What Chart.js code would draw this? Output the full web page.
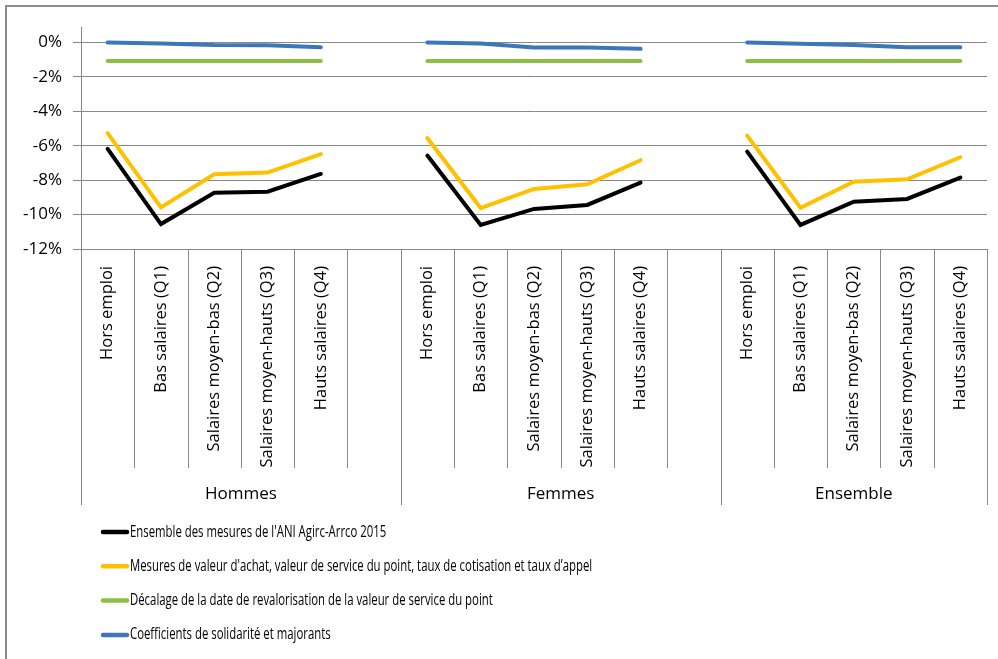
<!DOCTYPE html>
<html>
<head>
<meta charset="utf-8">
<script src="https://cdn.jsdelivr.net/npm/chart.js@4.4.1/dist/chart.umd.min.js"></script>
<style>
  html, body { margin: 0; padding: 0; background: #fff; }
  #wrap { width: 998px; height: 659px; position: relative; }
</style>
</head>
<body>
<div id="wrap"><canvas id="myChart" width="998" height="659"></canvas></div>
<script>
// categories (empty slot between groups keeps the lines apart)
const categories = [
  'Hors emploi', 'Bas salaires (Q1)', 'Salaires moyen-bas (Q2)', 'Salaires moyen-hauts (Q3)', 'Hauts salaires (Q4)', '',
  'Hors emploi', 'Bas salaires (Q1)', 'Salaires moyen-bas (Q2)', 'Salaires moyen-hauts (Q3)', 'Hauts salaires (Q4)', '',
  'Hors emploi', 'Bas salaires (Q1)', 'Salaires moyen-bas (Q2)', 'Salaires moyen-hauts (Q3)', 'Hauts salaires (Q4)'
]
const groups = ['Hommes', 'Femmes', 'Ensemble']
const groupStarts = [0, 6, 12, 17]

const seriesNames = [
  "Ensemble des mesures de l'ANI Agirc-Arrco 2015",
  "Mesures de valeur d'achat, valeur de service du point, taux de cotisation et taux d\u2019appel",
  "Décalage de la date de revalorisation de la valeur de service du point",
  "Coefficients de solidarité et majorants"
]
const ensembleMesures = [-6.18, -10.55, -8.73, -8.67, -7.64, null, -6.57, -10.6, -9.67, -9.44, -8.14, null, -6.34, -10.6, -9.25, -9.09, -7.85]
const valeurAchat = [-5.27, -9.58, -7.66, -7.56, -6.49, null, -5.56, -9.62, -8.51, -8.24, -6.84, null, -5.41, -9.6, -8.09, -7.95, -6.67]
const decalage = [-1.07, -1.07, -1.07, -1.07, -1.07, null, -1.07, -1.07, -1.07, -1.07, -1.07, null, -1.07, -1.07, -1.07, -1.07, -1.07]
const coefficients = [0, -0.06, -0.15, -0.16, -0.27, null, 0, -0.06, -0.29, -0.29, -0.37, null, 0, -0.07, -0.15, -0.27, -0.27]
const yTicks = [-12, -10, -8, -6, -4, -2, 0]

const colors = ['#000000', '#FFC000', '#8DBF44', '#3D77BA']
const gridGray = '#888888'
const baseFont = "'Open Sans', sans-serif"

const extras = {
  id: 'extras',
  beforeDraw(chart) {
    const ctx = chart.ctx
    ctx.save()
    ctx.strokeStyle = '#8c8c8c'
    ctx.lineWidth = 2
    ctx.strokeRect(6, 6, 1200, 1200)
    ctx.restore()
  },
  afterDraw(chart) {
    const ctx = chart.ctx
    const x = chart.scales.x
    const bottom = chart.chartArea.bottom
    const step = x.getPixelForValue(1) - x.getPixelForValue(0)
    ctx.save()
    ctx.strokeStyle = gridGray
    ctx.lineWidth = 1
    // separators between categories, longer at group edges
    for (let i = 0; i <= categories.length; i++) {
      const px = Math.round(x.getPixelForValue(i) - step / 2) + 0.5
      const isGroup = groupStarts.includes(i)
      ctx.beginPath()
      ctx.moveTo(px, bottom)
      ctx.lineTo(px, isGroup ? 505 : 468)
      ctx.stroke()
    }
    // group labels
    ctx.fillStyle = '#000'
    ctx.font = '17px ' + baseFont
    ctx.textAlign = 'center'
    ctx.textBaseline = 'middle'
    groups.forEach((g, k) => {
      const a = x.getPixelForValue(groupStarts[k]) - step / 2
      const b = x.getPixelForValue(groupStarts[k + 1]) - step / 2
      ctx.fillText(g, (a + b) / 2, 494)
    })
    // legend (text squeezed like the original)
    ctx.textAlign = 'left'
    ctx.font = '16px ' + baseFont
    chart.data.datasets.forEach((ds, k) => {
      const y = 532 + k * 34.3
      ctx.strokeStyle = ds.borderColor
      ctx.lineWidth = 4.5
      ctx.lineCap = 'round'
      ctx.beginPath()
      ctx.moveTo(103, y)
      ctx.lineTo(127, y)
      ctx.stroke()
      ctx.save()
      ctx.translate(130, y)
      ctx.scale(0.71, 1)
      ctx.fillText(ds.label, 0, 0)
      ctx.restore()
    })
    ctx.restore()
  }
}

const ctx = document.getElementById('myChart').getContext('2d')
const myChart = new Chart(ctx, {
  type: 'line',
  data: {
    labels: categories,
    datasets: [ensembleMesures, valeurAchat, decalage, coefficients].map((d, k) => ({
      label: seriesNames[k],
      data: d,
      borderColor: colors[k],
      backgroundColor: colors[k],
      borderWidth: 4,
      pointRadius: 0,
      borderCapStyle: 'round',
      fill: false,
      spanGaps: false,
      tension: 0
    }))
  },
  options: {
    responsive: false,
    animation: false,
    layout: { padding: { top: 27, right: 11, bottom: 154, left: 0 } },
    plugins: { legend: { display: false }, tooltip: { enabled: false } },
    scales: {
      x: {
        offset: true,
        grid: { display: false },
        border: { display: true, color: gridGray, width: 1 },
        ticks: {
          autoSkip: false, minRotation: 90, maxRotation: 90, padding: 9,
          color: '#000', font: { family: baseFont, size: 16.5 }
        },
        afterFit(scale) { scale.height = 256 }
      },
      y: {
        min: -12, max: 0.9,
        afterBuildTicks(scale) { scale.ticks = yTicks.map(v => ({ value: v })) },
        grid: { color: gridGray, tickLength: 8, drawTicks: true },
        border: { display: true, color: gridGray, width: 1 },
        ticks: {
          padding: 11, color: '#000',
          font: { family: baseFont, size: 17 },
          callback: v => v + '%'
        },
        afterFit(scale) { scale.width = 81 }
      }
    }
  },
  plugins: [extras]
})
</script>
</body>
</html>
